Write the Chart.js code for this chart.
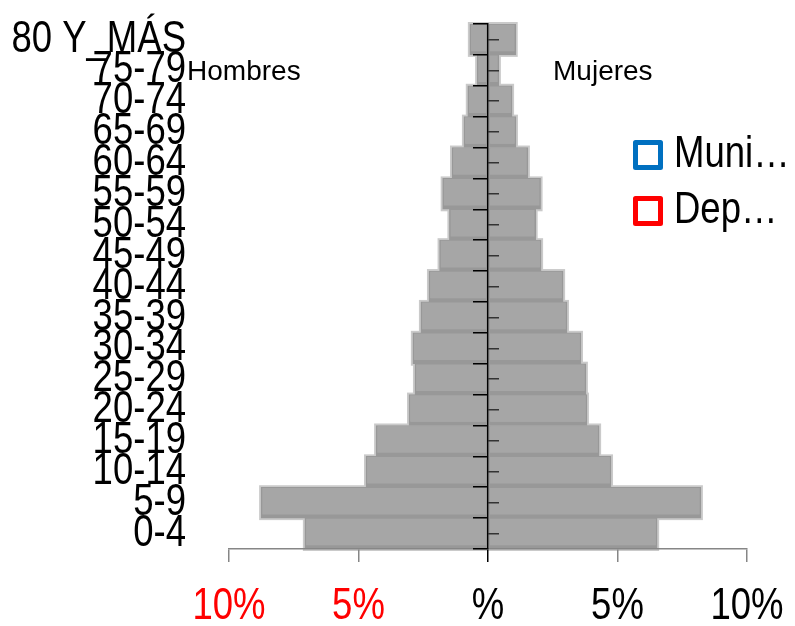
<!DOCTYPE html>
<html><head><meta charset="utf-8">
<script src="https://cdn.jsdelivr.net/npm/chart.js@4.4.1/dist/chart.umd.min.js"></script>
<style>html,body{margin:0;padding:0;background:#fff;overflow:hidden}</style>
</head><body>
<canvas id="c" width="795" height="626"></canvas>
<script>
const ageGroups = ['80 Y_MÁS','75-79','70-74','65-69','60-64','55-59','50-54','45-49','40-44','35-39','30-34','25-29','20-24','15-19','10-14','5-9','0-4'];
const menPct   = [0.70,0.42,0.78,0.93,1.39,1.75,1.49,1.87,2.28,2.59,2.90,2.82,3.05,4.32,4.71,8.76,7.07];
const womenPct = [1.07,0.42,0.93,1.08,1.54,2.03,1.84,2.05,2.90,3.05,3.59,3.78,3.82,4.29,4.75,8.22,6.53];
const xTickValues = [-10,-5,0,5,10];
const xTickLabels = ['10%','5%','%','5%','10%'];
const sideLabels = ['Hombres','Mujeres'];
const legendLabels = ['Muni…','Dep…'];
const legendColors = ['#0070c0','#ff0000'];

const FONT = "'Liberation Sans', Arial, sans-serif";
const NARROW_K = 0.83;

function makeMarker(color){
  const c = document.createElement('canvas'); c.width = 30; c.height = 30;
  const g = c.getContext('2d');
  g.strokeStyle = color; g.lineWidth = 5; g.lineJoin = 'round';
  g.strokeRect(2.5, 2.5, 25, 25);
  return c;
}
const markers = legendColors.map(makeMarker);

// draw the text of a library element horizontally condensed (Arial Narrow look)
function wrapNarrow(obj, method, k){
  if (!obj || obj['__narrow_' + method]) return;
  const orig = obj[method];
  obj[method] = function(...args){
    const ctx = this.ctx;
    const base = ctx.fillText;
    ctx.fillText = function(t, x, y){ this.save(); this.scale(k, 1); base.call(this, t, x / k, y); this.restore(); };
    try { return orig.apply(this, args); } finally { delete ctx.fillText; }
  };
  obj['__narrow_' + method] = true;
}

// light halo around each bar element (geometry taken from the library's bar elements)
const halo = {
  id: 'halo',
  beforeDatasetsDraw(chart){
    const ctx = chart.ctx; ctx.save(); ctx.fillStyle = '#cacaca';
    chart.getSortedVisibleDatasetMetas().forEach(meta => meta.data.forEach(el => {
      const p = el.getProps(['x', 'y', 'base', 'height'], true);
      const l = Math.min(p.x, p.base), r = Math.max(p.x, p.base);
      ctx.fillRect(l - 2, p.y - p.height / 2 - 2, r - l + 4, p.height + 4);
    }));
    ctx.restore();
  }
};
const sideText = {
  id: 'sideText',
  afterDraw(chart){
    const {ctx, scales} = chart; const x = scales.x, y = scales.y;
    ctx.save(); ctx.font = '28px ' + FONT; ctx.fillStyle = '#000'; ctx.textBaseline = 'middle'; ctx.textAlign = 'left';
    const yy = y.getPixelForValue(1) + 2;
    ctx.fillText(sideLabels[0], x.getPixelForValue(-11.62), yy);
    ctx.fillText(sideLabels[1], x.getPixelForValue(2.51), yy);
    ctx.restore();
  }
};
const layoutTweaks = {
  id: 'layoutTweaks',
  afterLayout(chart){
    const lg = chart.legend;
    if (lg) {
      lg.left = 632; lg.right = chart.width; lg.width = lg.right - lg.left;
      lg.top = 121; lg.bottom = lg.top + lg.height;
      wrapNarrow(lg, 'draw', NARROW_K);
    }
    wrapNarrow(chart.scales.y, 'drawLabels', NARROW_K);
    wrapNarrow(chart.scales.x, 'drawLabels', NARROW_K);
  }
};

function noPad(s){ s.paddingTop = 0; s.paddingBottom = 0; s.paddingLeft = 0; s.paddingRight = 0; }

const barStyle = { backgroundColor: '#a6a6a6', borderColor: '#989898', borderWidth: { left: 1.5, right: 1.5, top: 1, bottom: 4 }, borderSkipped: false, barPercentage: 1, categoryPercentage: 1 };

new Chart(document.getElementById('c'), {
  type: 'bar',
  data: {
    labels: ageGroups,
    datasets: [
      Object.assign({ label: sideLabels[0], data: menPct.map(v => -v) }, barStyle),
      Object.assign({ label: sideLabels[1], data: womenPct }, barStyle)
    ]
  },
  options: {
    indexAxis: 'y', responsive: false, animation: false, devicePixelRatio: 1, events: [],
    layout: { padding: { left: 0, right: 48, top: 24, bottom: 0 } },
    scales: {
      x: {
        type: 'linear', min: -10, max: 10, stacked: true, position: 'bottom',
        ticks: { stepSize: 5, autoSkip: false, maxRotation: 0, padding: 18,
          font: { family: FONT, size: 44 },
          color: c => (c.tick && c.tick.value < 0) ? '#ff0000' : '#000000',
          callback: v => xTickLabels[xTickValues.indexOf(v)] },
        grid: { drawOnChartArea: false, drawTicks: true, tickLength: 13, lineWidth: 1.5, z: 1,
          color: c => (c.tick && c.tick.value === 0) ? '#000000' : '#868686' },
        border: { display: true, color: '#868686', width: 1.5, z: 1 },
        afterFit(s){ s.height = 77; noPad(s); }
      },
      y: {
        type: 'category', stacked: true, position: 'left', offset: true,
        ticks: { autoSkip: false, padding: 0, font: { family: FONT, size: 44, lineHeight: 1 }, color: '#000' },
        grid: { display: false, drawTicks: true, tickLength: 43 }, border: { display: false },
        afterFit(s){ s.width = 229; noPad(s); }
      },
      yBound: {
        type: 'category', axis: 'y', position: { x: 0 }, offset: true,
        ticks: { display: false },
        grid: { offset: true, drawOnChartArea: false, tickLength: 14, color: '#000', lineWidth: 1.5, z: 2 },
        border: { display: true, color: '#000', width: 1.5, z: 2 },
        afterFit(s){ noPad(s); }
      },
      yMid: {
        type: 'category', axis: 'y', position: { x: 0 }, offset: true,
        ticks: { display: false },
        grid: { offset: false, drawOnChartArea: false, tickLength: -11, color: '#333', lineWidth: 1.5, z: 2 },
        border: { display: false },
        afterFit(s){ noPad(s); }
      }
    },
    plugins: {
      tooltip: { enabled: false },
      legend: {
        display: true, position: 'chartArea', align: 'start',
        labels: {
          usePointStyle: true, boxWidth: 8, padding: 12, color: '#000',
          font: { family: FONT, size: 44 },
          generateLabels: () => legendLabels.map((t, i) => ({ text: t, pointStyle: markers[i], fillStyle: '#fff', strokeStyle: legendColors[i], lineWidth: 0, hidden: false, fontColor: '#000' }))
        }
      }
    }
  },
  plugins: [halo, sideText, layoutTweaks]
});
</script>
</body></html>
